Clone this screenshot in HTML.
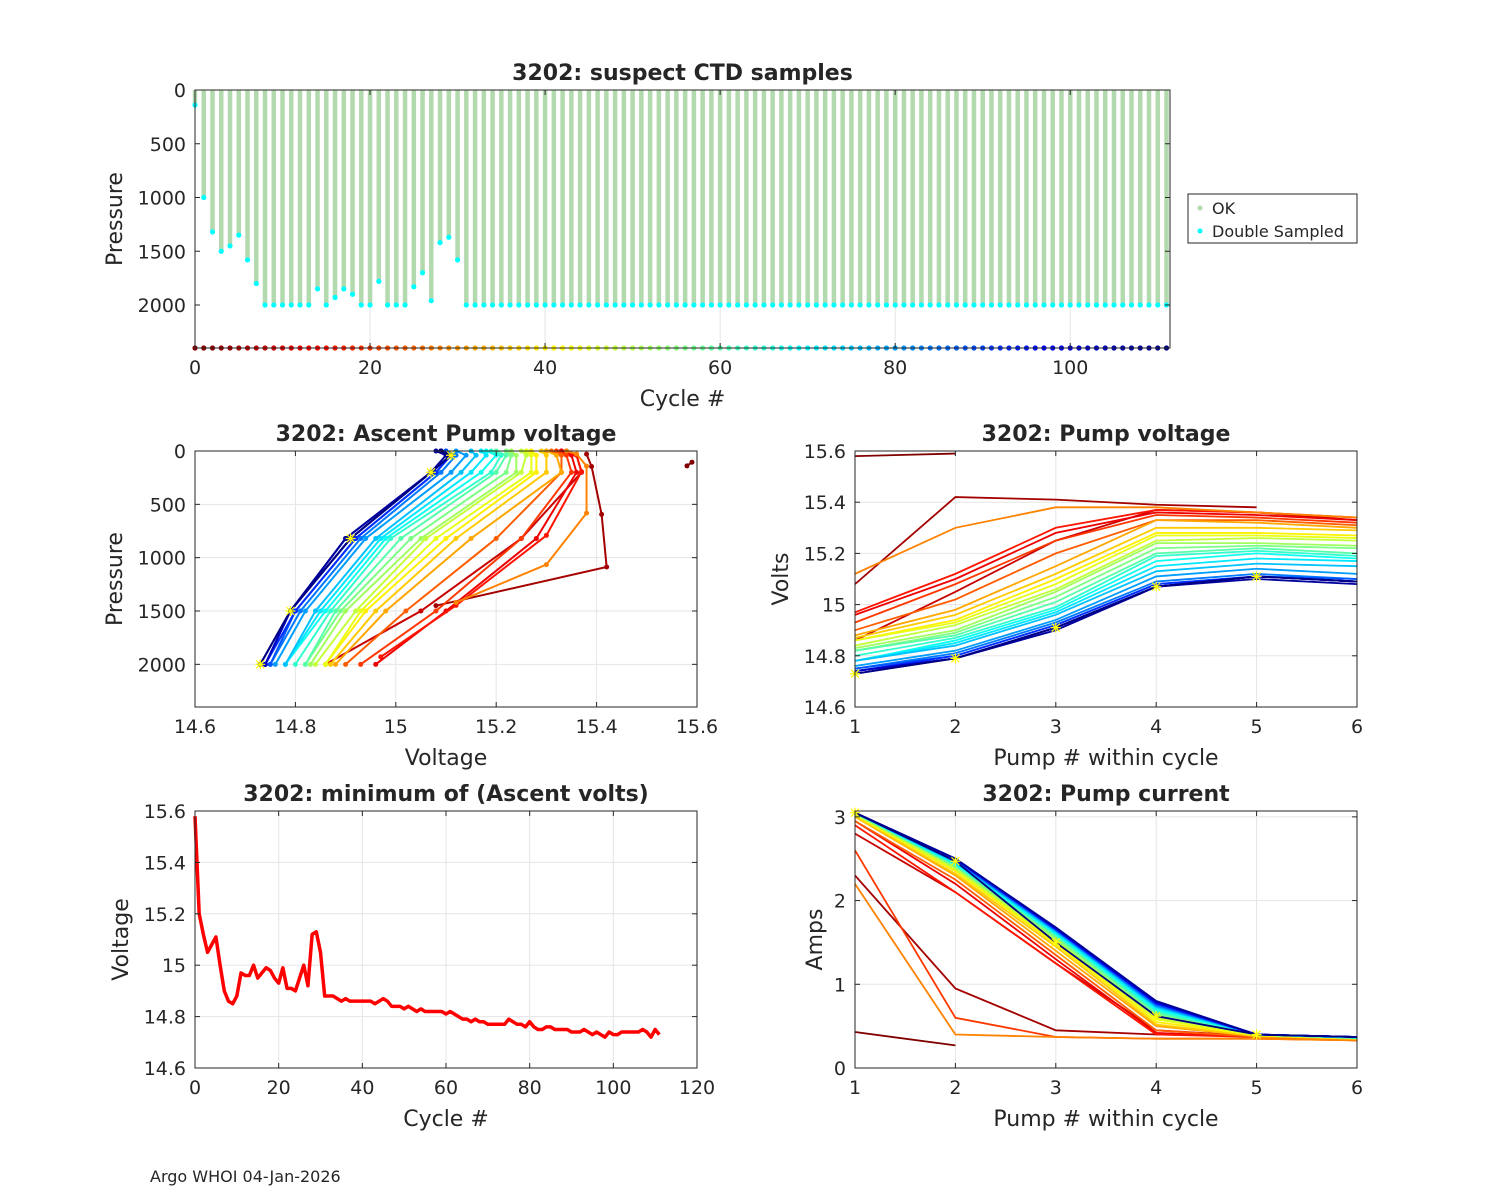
<!DOCTYPE html>
<html><head><meta charset="utf-8"><style>
body{margin:0;background:#fff;}
svg{display:block;font-family:"DejaVu Sans","Liberation Sans",sans-serif;}
text{fill:#262626;}
</style></head><body>
<svg id="fig" width="1500" height="1200" viewBox="0 0 1500 1200" xmlns="http://www.w3.org/2000/svg">
<text x="150" y="1182" font-size="16" fill="#000">Argo WHOI 04-Jan-2026</text>
<g>
<rect x="1188" y="194" width="169" height="49" fill="#fff" stroke="#262626" stroke-width="1"/>
<circle cx="1200" cy="208" r="2.5" fill="#b3d9ae"/><text x="1212" y="214" font-size="16">OK</text>
<circle cx="1200" cy="231" r="2.5" fill="#00ffff"/><text x="1212" y="237" font-size="16">Double Sampled</text>
</g>
</svg>
<script>
// ---- data ----
const cycles = [];
for (let i = 0; i < 112; i++) cycles.push(i);
const maxPressure = [140,1000,1320,1500,1450,1350,1580,1800,2000,2000,
2000,2000,2000,2000,1850,2000,1930,1850,1900,2000,
2000,1780,2000,2000,2000,1830,1700,1960,1420,1370,
1580,2000,2000,2000,2000,2000,2000,2000,2000,2000,
2000,2000,2000,2000,2000,2000,2000,2000,2000,2000,
2000,2000,2000,2000,2000,2000,2000,2000,2000,2000,
2000,2000,2000,2000,2000,2000,2000,2000,2000,2000,
2000,2000,2000,2000,2000,2000,2000,2000,2000,2000,
2000,2000,2000,2000,2000,2000,2000,2000,2000,2000,
2000,2000,2000,2000,2000,2000,2000,2000,2000,2000,
2000,2000,2000,2000,2000,2000,2000,2000,2000,2000,
2000,2000];
const minVolts = [15.58,15.2,15.12,15.05,15.08,15.11,15.0,14.9,14.86,14.85,
14.88,14.97,14.96,14.96,15.0,14.95,14.97,14.99,14.98,14.95,
14.93,14.99,14.91,14.91,14.9,14.95,15.0,14.92,15.12,15.13,
15.05,14.88,14.88,14.88,14.87,14.86,14.87,14.86,14.86,14.86,
14.86,14.86,14.86,14.85,14.86,14.87,14.86,14.84,14.84,14.84,
14.83,14.84,14.83,14.82,14.83,14.82,14.82,14.82,14.82,14.82,
14.81,14.82,14.81,14.8,14.79,14.79,14.78,14.79,14.78,14.78,
14.77,14.77,14.77,14.77,14.77,14.79,14.78,14.77,14.77,14.76,
14.78,14.76,14.75,14.75,14.76,14.76,14.75,14.75,14.75,14.75,
14.74,14.74,14.74,14.75,14.74,14.73,14.74,14.73,14.72,14.74,
14.73,14.73,14.74,14.74,14.74,14.74,14.74,14.75,14.74,14.72,
14.75,14.73];
const pumpCycles = [0,4,8,12,16,20,24,28,32,36,40,44,48,52,56,60,64,68,72,76,80,84,88,92,96,100,104,108,111];
const pumpVolts = [
[15.58,15.59],
[15.08,15.42,15.41,15.39,15.38],
[14.86,15.05,15.25,15.37,15.36,15.33],
[14.96,15.1,15.28,15.36,15.35,15.33],
[14.97,15.12,15.3,15.37,15.36,15.34],
[14.93,15.08,15.25,15.35,15.34,15.32],
[14.9,15.02,15.2,15.33,15.33,15.31],
[15.12,15.3,15.38,15.38,15.36,15.34],
[14.88,14.98,15.15,15.33,15.32,15.3],
[14.87,14.96,15.12,15.3,15.3,15.29],
[14.86,14.94,15.1,15.28,15.28,15.27],
[14.86,14.93,15.08,15.27,15.27,15.26],
[14.84,14.92,15.06,15.25,15.26,15.25],
[14.83,14.9,15.05,15.24,15.24,15.23],
[14.82,14.89,15.03,15.22,15.23,15.22],
[14.82,14.88,15.01,15.2,15.22,15.2],
[14.8,14.87,14.99,15.19,15.21,15.19],
[14.78,14.86,14.98,15.17,15.2,15.18],
[14.78,14.85,14.97,15.15,15.18,15.17],
[14.78,14.84,14.96,15.13,15.16,15.15],
[14.76,14.82,14.94,15.11,15.14,15.12],
[14.75,14.81,14.93,15.09,15.12,15.1],
[14.75,14.8,14.92,15.08,15.11,15.1],
[14.74,14.8,14.92,15.08,15.11,15.09],
[14.74,14.79,14.91,15.07,15.11,15.09],
[14.74,14.79,14.9,15.07,15.11,15.09],
[14.74,14.79,14.91,15.07,15.11,15.09],
[14.73,14.79,14.9,15.07,15.1,15.08],
[14.73,14.79,14.91,15.07,15.11,15.09]];
const pumpAmps = [
[0.43,0.27],
[2.3,0.95,0.45,0.4,0.38],
[2.8,2.1,1.25,0.45,0.38,0.35],
[2.95,2.2,1.3,0.42,0.37,0.33],
[2.9,2.1,1.25,0.4,0.37,0.33],
[2.6,0.6,0.37,0.35,0.35,0.33],
[2.95,2.25,1.35,0.45,0.37,0.33],
[2.2,0.4,0.37,0.35,0.35,0.33],
[3.0,2.3,1.4,0.5,0.38,0.35],
[3.0,2.32,1.45,0.52,0.38,0.35],
[3.02,2.35,1.48,0.55,0.39,0.35],
[3.03,2.37,1.5,0.58,0.39,0.36],
[3.03,2.38,1.52,0.6,0.4,0.36],
[3.04,2.4,1.54,0.62,0.4,0.36],
[3.04,2.41,1.56,0.64,0.4,0.36],
[3.05,2.42,1.58,0.66,0.4,0.36],
[3.05,2.43,1.6,0.68,0.4,0.36],
[3.05,2.44,1.6,0.7,0.4,0.36],
[3.05,2.45,1.62,0.72,0.4,0.36],
[3.05,2.46,1.63,0.73,0.4,0.37],
[3.05,2.47,1.64,0.74,0.4,0.37],
[3.05,2.48,1.65,0.75,0.4,0.37],
[3.05,2.48,1.65,0.76,0.4,0.37],
[3.05,2.49,1.66,0.77,0.4,0.37],
[3.05,2.5,1.66,0.78,0.4,0.37],
[3.05,2.5,1.67,0.78,0.4,0.37],
[3.05,2.5,1.67,0.79,0.4,0.37],
[3.05,2.5,1.68,0.8,0.4,0.37],
[3.05,2.47,1.5,0.62,0.4,0.37]];
const pumpPressFrac = [1.0,0.75,0.41,0.1,0.02,0.0];
const pumpNumbers = [1,2,3,4,5,6];
const topXTicks = [0,20,40,60,80,100];
const pressTicks = [0,500,1000,1500,2000];
const voltXTicks = [14.6,14.8,15,15.2,15.4,15.6];
const voltXLabels = ["14.6","14.8","15","15.2","15.4","15.6"];
const voltYTicks = [14.6,14.8,15,15.2,15.4,15.6];
const cycleTicks2 = [0,20,40,60,80,100,120];
const ampTicks = [0,1,2,3];

const NS = "http://www.w3.org/2000/svg";
const fig = document.getElementById('fig');
function mk(tag, attrs, parent){ const e=document.createElementNS(NS,tag); for(const k in attrs) e.setAttribute(k,attrs[k]); (parent||fig).appendChild(e); return e; }
function clamp(v){return Math.max(0,Math.min(1,v));}
function jet(t){const r=clamp(1.5-Math.abs(4*t-3)),g=clamp(1.5-Math.abs(4*t-2)),b=clamp(1.5-Math.abs(4*t-1));return `rgb(${Math.round(r*255)},${Math.round(g*255)},${Math.round(b*255)})`;}
function cycColor(c){return jet(1-c/111);}

function makeAxes(o){
  const g = mk('g',{});
  
  
  const sx = v => o.x0 + (v-o.xmin)/(o.xmax-o.xmin)*(o.x1-o.x0);
  const sy = o.yrev ? (v => o.y0 + (v-o.ymin)/(o.ymax-o.ymin)*(o.y1-o.y0)) : (v => o.y1 - (v-o.ymin)/(o.ymax-o.ymin)*(o.y1-o.y0));
  mk('rect',{x:o.x0,y:o.y0,width:o.x1-o.x0,height:o.y1-o.y0,fill:'#fff'},g);
  const grid = mk('g',{stroke:'#e5e5e5','stroke-width':1},g);
  o.xticks.forEach(t=>{ mk('line',{x1:sx(t),x2:sx(t),y1:o.y0,y2:o.y1},grid); });
  if(o.ygrid) o.yticks.forEach(t=>{ mk('line',{x1:o.x0,x2:o.x1,y1:sy(t),y2:sy(t)},grid); });
  const plot = mk('g',{},g);
  const frame = mk('g',{},g);
  mk('rect',{x:o.x0,y:o.y0,width:o.x1-o.x0,height:o.y1-o.y0,fill:'none',stroke:'#262626','stroke-width':1},frame);
  o.xticks.forEach((t,i)=>{ const x=sx(t);
    mk('line',{x1:x,x2:x,y1:o.y1,y2:o.y1-5,stroke:'#262626'},frame);
    mk('line',{x1:x,x2:x,y1:o.y0,y2:o.y0+5,stroke:'#262626'},frame);
    const tx=mk('text',{x:x,y:o.y1+26,'font-size':19,'text-anchor':'middle'},frame);
    tx.textContent = o.xlabels?o.xlabels[i]:String(t);
    
    
  });
  o.yticks.forEach((t,i)=>{ const y=sy(t);
    mk('line',{x1:o.x0,x2:o.x0+5,y1:y,y2:y,stroke:'#262626'},frame);
    mk('line',{x1:o.x1,x2:o.x1-5,y1:y,y2:y,stroke:'#262626'},frame);
    const tx=mk('text',{x:o.x0-9,y:y+7,'font-size':19,'text-anchor':'end'},frame);
    tx.textContent = o.ylabels?o.ylabels[i]:String(t);
    
    
  });
  const ti=mk('text',{x:(o.x0+o.x1)/2,y:o.y0-10,'font-size':22,'font-weight':'bold','text-anchor':'middle',fill:'#000'},g);
  ti.textContent=o.title;  
  const xl=mk('text',{x:(o.x0+o.x1)/2,y:o.y1+58,'font-size':22,'text-anchor':'middle'},g);
  xl.textContent=o.xlabel;  
  const yx=o.ylabelX, yy=(o.y0+o.y1)/2;
  const yl=mk('text',{x:yx,y:yy,'font-size':22,'text-anchor':'middle',transform:`rotate(-90 ${yx} ${yy})`},g);
  yl.textContent=o.ylabel;  
  return {g:plot,sx,sy};
}
function star(parent,x,y){
  const s=mk('path',{d:`M${x-5},${y}H${x+5}M${x},${y-5}V${y+5}M${x-4},${y-4}L${x+4},${y+4}M${x-4},${y+4}L${x+4},${y-4}`,stroke:'#ffff00','stroke-width':1.2,fill:'none'},parent);
  
  
}

// ---- top panel ----
const A = makeAxes({name:'suspect-ctd-chart',x0:195,x1:1170,y0:90,y1:348,xmin:0,xmax:111.4,ymin:0,ymax:2400,yrev:true,
  xticks:topXTicks,yticks:pressTicks,title:'3202: suspect CTD samples',xlabel:'Cycle #',ylabel:'Pressure',ylabelX:122});
cycles.forEach(c=>{
  const b=mk('line',{x1:A.sx(c),x2:A.sx(c),y1:A.sy(0),y2:A.sy(maxPressure[c]),stroke:'#b3d9ae','stroke-width':4.5},A.g);
  
  
});
cycles.forEach(c=>{
  const d=mk('circle',{cx:A.sx(c),cy:A.sy(maxPressure[c]),r:2.6,fill:'#00ffff'},A.g);
  
  
  const e=mk('circle',{cx:A.sx(c),cy:A.sy(2400),r:2.6,fill:cycColor(c)},A.g);
  
  
});

// ---- middle left ----
const B = makeAxes({name:'ascent-pump-voltage-chart',x0:195,x1:697,y0:451,y1:707,xmin:14.6,xmax:15.6,ymin:0,ymax:2400,yrev:true,ygrid:true,
  xticks:voltXTicks,xlabels:voltXLabels,yticks:pressTicks,title:'3202: Ascent Pump voltage',xlabel:'Voltage',ylabel:'Pressure',ylabelX:122});
pumpCycles.forEach((c,i)=>{
  const v=pumpVolts[i]; const mp=maxPressure[c];
  const pts=v.map((val,k)=>[B.sx(val),B.sy(pumpPressFrac[k]*mp)]);
  const p=mk('polyline',{points:pts.map(q=>q.join(',')).join(' '),fill:'none',stroke:cycColor(c),'stroke-width':2},B.g);
  
  
  pts.forEach(q=>{ const d=mk('circle',{cx:q[0],cy:q[1],r:2.5,fill:cycColor(c)},B.g);
    
     });
});
{ const last=pumpVolts[pumpVolts.length-1]; last.slice(0,5).forEach((val,k)=>star(B.g,B.sx(val),B.sy(pumpPressFrac[k]*2000))); }

// ---- middle right ----
const C = makeAxes({name:'pump-voltage-chart',x0:855,x1:1357,y0:451,y1:707,xmin:1,xmax:6,ymin:14.6,ymax:15.6,ygrid:true,
  xticks:pumpNumbers,yticks:voltYTicks,ylabels:voltXLabels,title:'3202: Pump voltage',xlabel:'Pump # within cycle',ylabel:'Volts',ylabelX:788});
pumpCycles.forEach((c,i)=>{
  const v=pumpVolts[i];
  const p=mk('polyline',{points:v.map((val,k)=>C.sx(pumpNumbers[k])+','+C.sy(val)).join(' '),fill:'none',stroke:cycColor(c),'stroke-width':1.8},C.g);
  
  
});
{ const last=pumpVolts[pumpVolts.length-1]; last.slice(0,5).forEach((val,k)=>star(C.g,C.sx(pumpNumbers[k]),C.sy(val))); }

// ---- bottom left ----
const D = makeAxes({name:'min-ascent-volts-chart',x0:195,x1:697,y0:811,y1:1068,xmin:0,xmax:120,ymin:14.6,ymax:15.6,ygrid:true,
  xticks:cycleTicks2,yticks:voltYTicks,ylabels:voltXLabels,title:'3202: minimum of (Ascent volts)',xlabel:'Cycle #',ylabel:'Voltage',ylabelX:128});
{ const l=mk('polyline',{points:cycles.map(c=>D.sx(c)+','+D.sy(minVolts[c])).join(' '),fill:'none',stroke:'#ff0000','stroke-width':3.5,'stroke-linejoin':'round'},D.g);
  
   }

// ---- bottom right ----
const E = makeAxes({name:'pump-current-chart',x0:855,x1:1357,y0:811,y1:1068,xmin:1,xmax:6,ymin:0,ymax:3.07,ygrid:true,
  xticks:pumpNumbers,yticks:ampTicks,title:'3202: Pump current',xlabel:'Pump # within cycle',ylabel:'Amps',ylabelX:822});
pumpCycles.forEach((c,i)=>{
  const v=pumpAmps[i];
  const p=mk('polyline',{points:v.map((val,k)=>E.sx(pumpNumbers[k])+','+E.sy(val)).join(' '),fill:'none',stroke:cycColor(c),'stroke-width':1.8},E.g);
  
  
});
{ const last=pumpAmps[pumpAmps.length-1]; last.slice(0,5).forEach((val,k)=>star(E.g,E.sx(pumpNumbers[k]),E.sy(val))); }
</script>
</body></html>
